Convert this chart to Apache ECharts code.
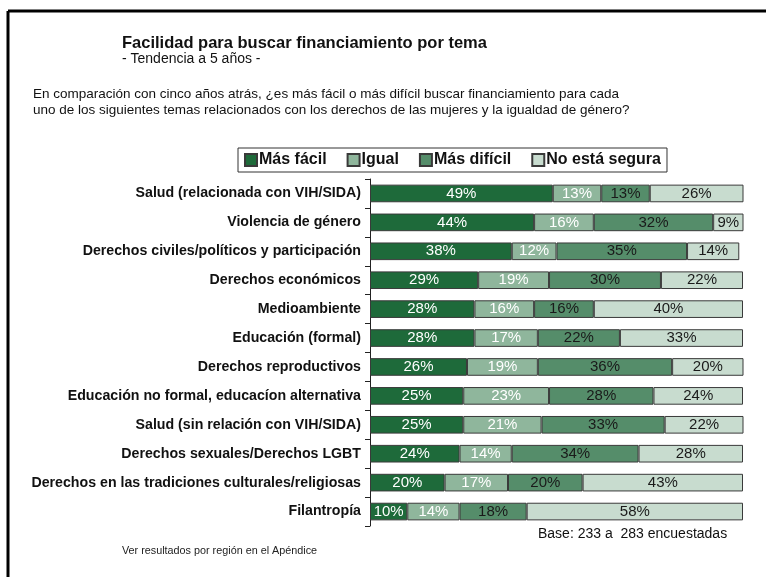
<!DOCTYPE html>
<html>
<head>
<meta charset="utf-8">
<script src="https://cdn.jsdelivr.net/npm/echarts@6/dist/echarts.min.js"></script>
<style>
  html, body { margin: 0; padding: 0; background: #fff; }
  #chart { width: 766px; height: 577px; }
</style>
</head>
<body>
<div id="chart"></div>
<script>
const categories = [
  'Salud (relacionada con VIH/SIDA)',
  'Violencia de género',
  'Derechos civiles/políticos y participación',
  'Derechos económicos',
  'Medioambiente',
  'Educación (formal)',
  'Derechos reproductivos',
  'Educación no formal, educacíon alternativa',
  'Salud (sin relación con VIH/SIDA)',
  'Derechos sexuales/Derechos LGBT',
  'Derechos en las tradiciones culturales/religiosas',
  'Filantropía'
];
const masFacil   = [49, 44, 38, 29, 28, 28, 26, 25, 25, 24, 20, 10];
const igual      = [13, 16, 12, 19, 16, 17, 19, 23, 21, 14, 17, 14];
const masDificil = [13, 32, 35, 30, 16, 22, 36, 28, 33, 34, 20, 18];
const noSegura   = [26,  9, 14, 22, 40, 33, 20, 24, 22, 28, 43, 58];

const FONT = '"Liberation Sans", Arial, sans-serif';

const chart = echarts.init(document.getElementById('chart'));

function mkSeries(name, data, color, labelColor) {
  return {
    name: name,
    type: 'bar',
    stack: 'total',
    data: data,
    barWidth: '61%',
    itemStyle: { color: color, borderColor: '#3a3a3a', borderWidth: 1 },
    label: {
      show: true,
      position: 'inside',
      formatter: '{c}%',
      color: labelColor,
      fontFamily: FONT,
      fontSize: 15
    },
    emphasis: { disabled: true }
  };
}

chart.setOption({
  animation: false,
  textStyle: { fontFamily: FONT },
  graphic: [
    { type: 'line', shape: { x1: 8, y1: 11, x2: 766, y2: 11 }, style: { stroke: '#000', lineWidth: 3 } },
    { type: 'line', shape: { x1: 8, y1: 11, x2: 8, y2: 577 }, style: { stroke: '#000', lineWidth: 3 } },
    { type: 'text', left: 122, top: 35, style: { text: 'Facilidad para buscar financiamiento por tema', fontFamily: FONT, fontSize: 16.5, fontWeight: 'bold', fill: '#111' } },
    { type: 'text', left: 122, top: 52, style: { text: '- Tendencia a 5 años -', fontFamily: FONT, fontSize: 14, fill: '#111' } },
    { type: 'text', left: 33, top: 86, style: { text: 'En comparación con cinco años atrás, ¿es más fácil o más difícil buscar financiamiento para cada\nuno de los siguientes temas relacionados con los derechos de las mujeres y la igualdad de género?', fontFamily: FONT, fontSize: 13.5, lineHeight: 16, fill: '#111' } },
    { type: 'text', left: 538, top: 527, style: { text: 'Base: 233 a  283 encuestadas', fontFamily: FONT, fontSize: 14, fill: '#111' } },
    { type: 'text', left: 122, top: 546, style: { text: 'Ver resultados por región en el Apéndice', fontFamily: FONT, fontSize: 10.8, fill: '#222' } }
  ],
  legend: {
    left: 238,
    top: 148,
    itemWidth: 12,
    itemHeight: 12,
    itemGap: 20,
    padding: [4, 6],
    borderColor: '#333',
    borderWidth: 1,
    icon: 'rect',
    textStyle: { fontFamily: FONT, fontSize: 16, fontWeight: 'bold', color: '#111', padding: [0, 0, 0, -3] },
    data: ['Más fácil', 'Igual', 'Más difícil', 'No está segura']
  },
  grid: { left: 370, right: 23, top: 179, bottom: 51 },
  xAxis: {
    type: 'value',
    min: 0,
    max: 100,
    show: false
  },
  yAxis: {
    type: 'category',
    data: categories,
    inverse: true,
    axisLine: { show: true, lineStyle: { color: '#222', width: 1 } },
    axisTick: { show: true, length: 5, lineStyle: { color: '#222' } },
    axisLabel: { fontFamily: FONT, fontSize: 14.2, fontWeight: 'bold', color: '#111', margin: 9 }
  },
  series: [
    mkSeries('Más fácil', masFacil, '#1e6a3a', '#fff'),
    mkSeries('Igual', igual, '#8fb69c', '#fff'),
    mkSeries('Más difícil', masDificil, '#558d6a', '#1a1a1a'),
    mkSeries('No está segura', noSegura, '#c8dccf', '#1a1a1a')
  ]
});
</script>
</body>
</html>
